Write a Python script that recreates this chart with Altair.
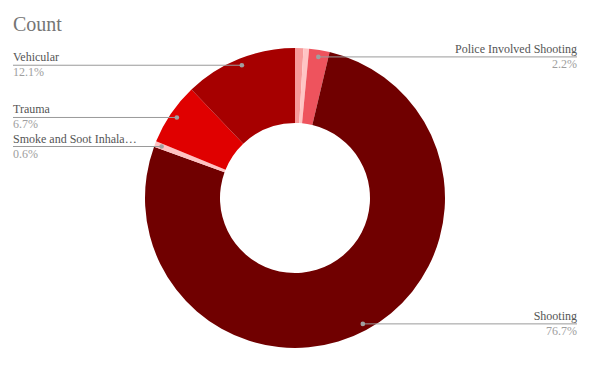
import altair as alt
import pandas as pd

# Share of deaths by cause (percent of total), in clockwise order from 12 o'clock
causes = [
    "Drowning",
    "Fire",
    "Police Involved Shooting",
    "Shooting",
    "Smoke and Soot Inhalation",
    "Trauma",
    "Vehicular",
]
shares = [0.9, 0.6, 2.2, 76.7, 0.6, 6.7, 12.1]
labeled = [False, False, True, True, True, True, True]
colors = ["#f79a9a", "#ffc4c4", "#ee535d", "#700000", "#ffc2c2", "#e00000", "#a60000"]

df = pd.DataFrame({
    "cause": causes,
    "share": shares,
    "labeled": labeled,
    "idx": list(range(len(causes))),
})

CX, CY = 295, 198          # pie centre
R_OUT, R_IN = 150, 75      # donut radii
R_DOT = 143                # radius of leader-line anchor dots
LEFT_X, RIGHT_X = 13, 577  # label columns
FONT = "Liberation Serif"

donut = alt.Chart(df).mark_arc(innerRadius=R_IN, outerRadius=R_OUT).encode(
    theta=alt.Theta("share:Q", stack=True),
    color=alt.Color("cause:N", scale=alt.Scale(domain=causes, range=colors), legend=None),
    order=alt.Order("idx:Q"),
    x=alt.value(CX),
    y=alt.value(CY),
)

# anchor points at the middle angle of every slice
anchors = (
    alt.Chart(df)
    .transform_window(cum="sum(share)", sort=[alt.SortField("idx")])
    .transform_joinaggregate(total="sum(share)")
    .transform_calculate(
        mid="(datum.cum - datum.share / 2) / datum.total * 2 * PI",
        pct="format(datum.share, '.1f') + '%'",
    )
    .transform_calculate(
        px=f"{CX} + {R_DOT} * sin(datum.mid)",
        py=f"{CY} - {R_DOT} * cos(datum.mid)",
    )
    .transform_filter("datum.labeled")
)

left = anchors.transform_filter(f"datum.px < {CX}")
right = anchors.transform_filter(f"datum.px >= {CX}")

px = alt.X("px:Q", scale=None, axis=None)
py = alt.Y("py:Q", scale=None, axis=None)

line_color = "#9a9a9a"
name_color = "#555555"
pct_color = "#9e9e9e"

left_rule = left.mark_rule(color=line_color, strokeWidth=1).encode(x=px, x2=alt.value(LEFT_X), y=py)
right_rule = right.mark_rule(color=line_color, strokeWidth=1).encode(x=px, x2=alt.value(RIGHT_X), y=py)

dots = anchors.mark_circle(size=22, color="#a0a0a0", opacity=1).encode(x=px, y=py)

left_name = left.mark_text(
    align="left", baseline="alphabetic", dy=-4, font=FONT, fontSize=12,
    color=name_color, limit=125,
).encode(x=alt.value(LEFT_X), y=py, text="cause:N")
left_pct = left.mark_text(
    align="left", baseline="alphabetic", dy=11, font=FONT, fontSize=12, color=pct_color,
).encode(x=alt.value(LEFT_X), y=py, text="pct:N")

right_name = right.mark_text(
    align="right", baseline="alphabetic", dy=-4, font=FONT, fontSize=12,
    color=name_color, limit=180,
).encode(x=alt.value(RIGHT_X), y=py, text="cause:N")
right_pct = right.mark_text(
    align="right", baseline="alphabetic", dy=11, font=FONT, fontSize=12, color=pct_color,
).encode(x=alt.value(RIGHT_X), y=py, text="pct:N")

title = alt.Chart(pd.DataFrame({"t": ["Count"]})).mark_text(
    align="left", baseline="alphabetic", font=FONT, fontSize=20, color="#757575",
).encode(x=alt.value(LEFT_X), y=alt.value(31), text="t:N")

chart = alt.layer(
    donut, left_rule, right_rule, dots, left_name, left_pct, right_name, right_pct, title
).properties(
    width=616, height=379, autosize="none", padding=0,
).configure(
    background="white",
    view=alt.ViewConfig(stroke=None),
)

chart.save("out.html", embed_options={"renderer": "svg", "actions": False})
